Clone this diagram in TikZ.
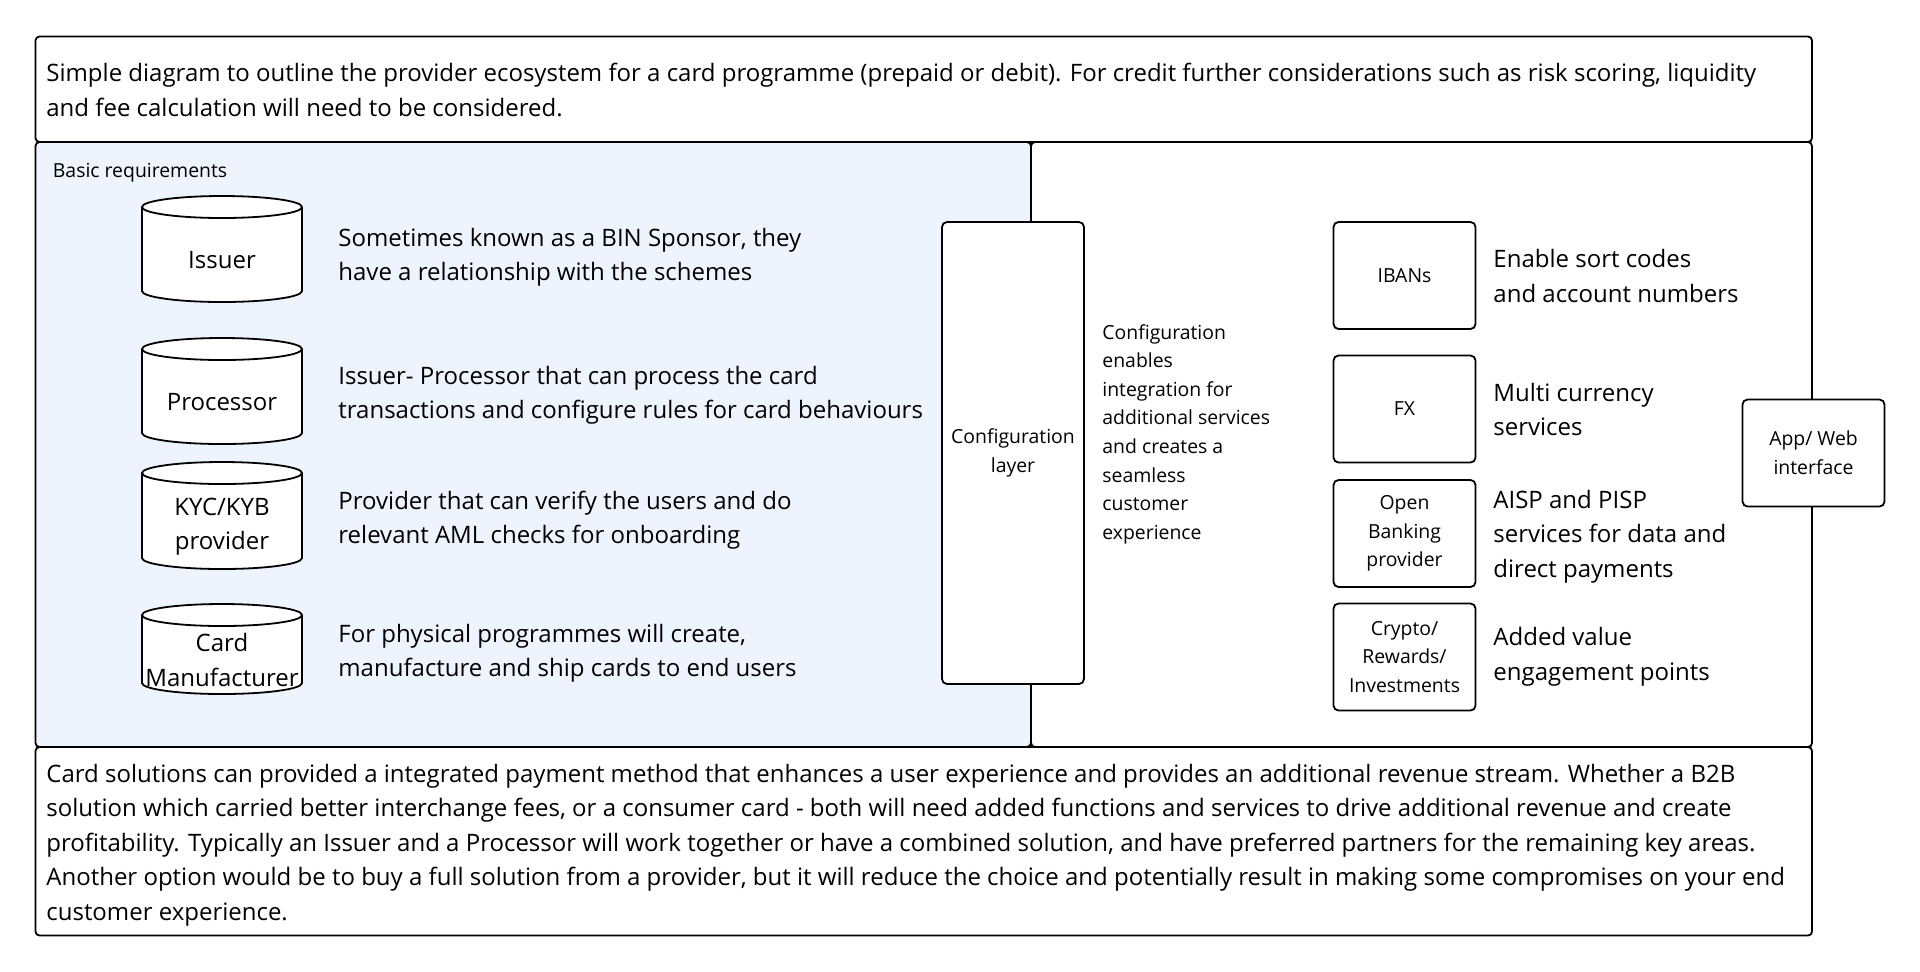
\documentclass[tikz,border=0pt]{standalone}
\usepackage{fontspec}
\setmainfont{Open Sans}
\usetikzlibrary{positioning}

\definecolor{reqblue}{RGB}{237,244,254}
\newcommand{\bigfs}{\fontsize{12pt}{17.25pt}\selectfont}
\newcommand{\smallfs}{\fontsize{9.7pt}{14.3pt}\selectfont}

\tikzset{
  panel/.style={draw=black, line width=0.9pt, rounded corners=2pt},
  svcbox/.style={draw=black, line width=0.9pt, rounded corners=2.5pt, fill=white,
    align=center, font=\smallfs, inner sep=1pt, minimum width=71pt, minimum height=53.5pt},
  desc/.style={anchor=west, align=left, font=\bigfs, inner sep=0pt},
  cyl/.style={draw=black, line width=0.9pt, fill=white}
}

\begin{document}
\begin{tikzpicture}[x=0.5pt, y=-0.5pt]
  \useasboundingbox (0,0) rectangle (1920,971);

  % frames
  \draw [panel, fill=reqblue] (35.5,142) rectangle (1031,747);
  \draw [panel, fill=white] (1031,142) rectangle (1812,747);
  \draw [panel, fill=white] (35.5,36.5) rectangle (1812,142);
  \draw [panel, fill=white] (35.5,747) rectangle (1812,935.5);

  \node [desc] (intro) at (46,90)
  {Simple diagram to outline the provider ecosystem for a card programme (prepaid or debit). For credit further considerations such as risk scoring, liquidity\\
   and fee calculation will need to be considered.};

  \node [desc, font=\smallfs] (basic) at (52.5,173) {Basic requirements};

  % cylinders for the basic providers
  \foreach \ytop/\ybot/\lbl/\name in {196/302/Issuer/issuer,
      338/444/Processor/processor,
      462/569/{KYC/KYB\\provider}/kyc,
      604/694/{Card\\Manufacturer}/maker} {
    \draw [cyl] (142,{\ytop+11}) -- (142,{\ybot-11})
      arc [start angle=180, end angle=0, x radius=80, y radius=11]
      -- (302,{\ytop+11});
    \draw [cyl] (222,{\ytop+11}) ellipse [x radius=80, y radius=11];
    \node [align=center, font=\bigfs, inner sep=0pt] (\name)
      at (222,{(\ytop+22+\ybot)/2}) {\lbl};
  }

  \node [desc] (issuer-txt) at (338,257.5)
  {Sometimes known as a BIN Sponsor, they\\have a relationship with the schemes};
  \node [desc] (processor-txt) at (338,395.5)
  {Issuer- Processor that can process the card\\transactions and configure rules for card behaviours};
  \node [desc] (kyc-txt) at (338,520)
  {Provider that can verify the users and do\\relevant AML checks for onboarding};
  \node [desc] (maker-txt) at (338,653)
  {For physical programmes will create,\\manufacture and ship cards to end users};

  % configuration layer
  \node [svcbox, minimum height=231pt] (config) at (1013,453) {Configuration\\layer};
  \node [desc, font=\smallfs] (config-txt) at (1102,434)
  {Configuration\\enables\\integration for\\additional services\\and creates a\\seamless\\customer\\experience};

  % additional services
  \node [svcbox] (ibans) at (1404.5,275.5) {IBANs};
  \node [svcbox] (fx) at (1404.5,409) {FX};
  \node [svcbox] (openbank) at (1404.5,533.5) {Open\\Banking\\provider};
  \node [svcbox] (crypto) at (1404.5,657) {Crypto/\\Rewards/\\Investments};

  \node [desc] (ibans-txt) at (1493,276) {Enable sort codes\\and account numbers};
  \node [desc] (fx-txt) at (1493,409.5) {Multi currency\\services};
  \node [desc] (openbank-txt) at (1493,536.5) {AISP and PISP\\services for data and\\direct payments};
  \node [desc] (crypto-txt) at (1493,656.5) {Added value\\engagement points};

  \node [svcbox] (app) at (1813.5,453) {App/ Web\\interface};

  \node [desc] (summary) at (46,845)
  {Card solutions can provided a integrated payment method that enhances a user experience and provides an additional revenue stream. Whether a B2B\\
   solution which carried better interchange fees, or a consumer card - both will need added functions and services to drive additional revenue and create\\
   profitability. Typically an Issuer and a Processor will work together or have a combined solution, and have preferred partners for the remaining key areas.\\
   Another option would be to buy a full solution from a provider, but it will reduce the choice and potentially result in making some compromises on your end\\
   customer experience.};
\end{tikzpicture}
\end{document}
